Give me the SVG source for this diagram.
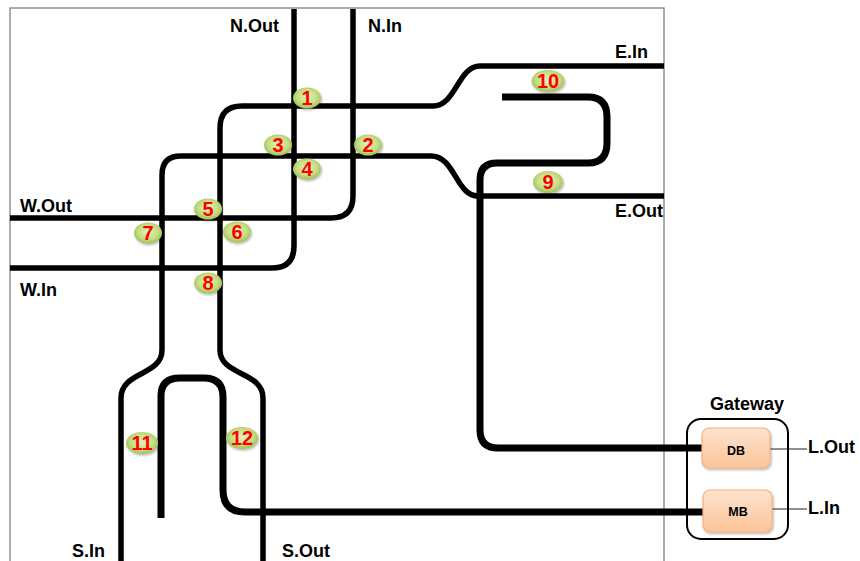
<svg xmlns="http://www.w3.org/2000/svg" width="860" height="561" viewBox="0 0 860 561">
<defs>
  <radialGradient id="gGreen" cx="50%" cy="45%" r="60%">
    <stop offset="0" stop-color="#e6f2bd"/>
    <stop offset="0.6" stop-color="#c4de80"/>
    <stop offset="1" stop-color="#98b84f"/>
  </radialGradient>
  <linearGradient id="gOrange" x1="0" y1="0" x2="0" y2="1">
    <stop offset="0" stop-color="#fde3cf"/>
    <stop offset="1" stop-color="#fbc497"/>
  </linearGradient>
  <filter id="sh" x="-30%" y="-30%" width="160%" height="160%">
    <feDropShadow dx="1" dy="1.5" stdDeviation="1" flood-color="#000" flood-opacity="0.3"/>
  </filter>
</defs>
<style>
  .road { fill: none; stroke: #000; stroke-width: 5.5; }
  .loop { fill: none; stroke: #000; stroke-width: 7; }
  .thin { fill: none; stroke: #222; stroke-width: 1.2; }
  .lbl { font-family: "Liberation Sans", Arial, sans-serif; font-weight: bold; font-size: 18px; fill: #000; }
  .pt ellipse { fill: url(#gGreen); filter: url(#sh); }
  .pt text { font-family: "Liberation Sans", Arial, sans-serif; font-weight: bold; font-size: 20px; fill: #ff0000; text-anchor: middle; }
  .box { fill: url(#gOrange); stroke: #f4b183; stroke-width: 1.2; filter: url(#sh); }
  .boxt { font-family: "Liberation Sans", Arial, sans-serif; font-weight: bold; font-size: 12.5px; fill: #000; text-anchor: middle; }
</style>
<rect x="0" y="0" width="860" height="561" fill="#fff"/>
<rect id="frame" x="10" y="8" width="654" height="600" fill="none" stroke="#808080" stroke-width="1.3"/>

<g id="connectors">
  <path class="road" d="M294,9 V246 Q294,268 272,268 H10"/>
  <path class="road" d="M353,9 V196 Q353,218 331,218 H10"/>
  <path class="road" d="M664,66 H480 C458,66 456,106 433,106 H242 Q220,106 220,128 V350 C220,376 263,371 263,398 V561"/>
  <path class="road" d="M664,196 H478 C456,196 455,156 431,156 H181 Q162,156 162,175 V350 C162,376 121,371 121,398 V561"/>
  <path class="loop" d="M502,97 H588 Q607,97 607,117 V143 Q607,163 588,163 H497 Q480,163 480,180 V430 Q480,448 498,448 H703"/>
  <path class="loop" d="M161,518 V396 Q161,378 180,378 H204 Q223,378 223,397 V490 Q223,512 245,512 H704"/>
  <path class="thin" d="M770,449 H807"/>
  <path class="thin" d="M772,509 H807"/>
</g>

<g id="labels">
  <text class="lbl" x="230" y="32">N.Out</text>
  <text class="lbl" x="368" y="32">N.In</text>
  <text class="lbl" x="615" y="58">E.In</text>
  <text class="lbl" x="615" y="217">E.Out</text>
  <text class="lbl" x="20" y="212">W.Out</text>
  <text class="lbl" x="20" y="296">W.In</text>
  <text class="lbl" x="72" y="557">S.In</text>
  <text class="lbl" x="282" y="557">S.Out</text>
  <text class="lbl" x="808" y="453">L.Out</text>
  <text class="lbl" x="808" y="514">L.In</text>
</g>

<g id="p1" class="pt"><ellipse cx="307" cy="98" rx="14" ry="10.5"/><text x="307" y="105">1</text></g>
<g id="p2" class="pt"><ellipse cx="368" cy="145" rx="14" ry="10.5"/><text x="368" y="152">2</text></g>
<g id="p3" class="pt"><ellipse cx="278" cy="145" rx="14" ry="10.5"/><text x="278" y="152">3</text></g>
<g id="p4" class="pt"><ellipse cx="307" cy="169" rx="14" ry="10.5"/><text x="307" y="176">4</text></g>
<g id="p5" class="pt"><ellipse cx="208" cy="209" rx="14" ry="10.5"/><text x="208" y="216">5</text></g>
<g id="p6" class="pt"><ellipse cx="237" cy="232" rx="14" ry="10.5"/><text x="237" y="239">6</text></g>
<g id="p7" class="pt"><ellipse cx="148" cy="233" rx="14" ry="10.5"/><text x="148" y="240">7</text></g>
<g id="p8" class="pt"><ellipse cx="208" cy="283" rx="14" ry="10.5"/><text x="208" y="290">8</text></g>
<g id="p9" class="pt"><ellipse cx="548" cy="182" rx="15" ry="11"/><text x="548" y="189">9</text></g>
<g id="p10" class="pt"><ellipse cx="548" cy="81" rx="16.5" ry="11"/><text x="548" y="88">10</text></g>
<g id="p11" class="pt"><ellipse cx="142" cy="443" rx="16" ry="11"/><text x="142" y="450">11</text></g>
<g id="p12" class="pt"><ellipse cx="242" cy="438" rx="16" ry="11"/><text x="242" y="445">12</text></g>

<g id="gateway">
  <rect x="687" y="419" width="101" height="120" rx="14" fill="none" stroke="#000" stroke-width="2"/>
  <text class="lbl" x="710" y="410">Gateway</text>
</g>
<g id="DB">
  <rect class="box" x="702" y="428" width="68" height="40" rx="7"/>
  <text class="boxt" x="736" y="455">DB</text>
</g>
<g id="MB">
  <rect class="box" x="703" y="490" width="69" height="42" rx="7"/>
  <text class="boxt" x="738" y="516">MB</text>
</g>
</svg>
